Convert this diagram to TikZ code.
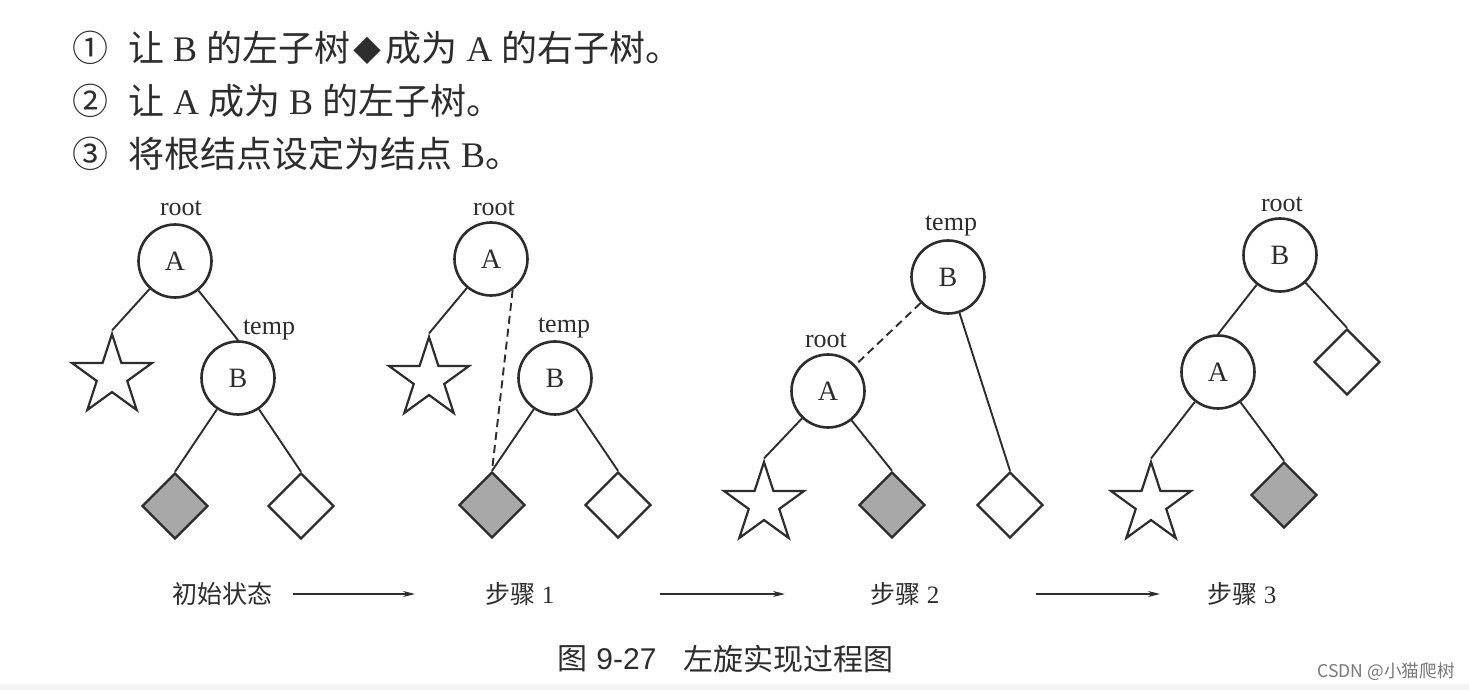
\documentclass[tikz,border=0pt]{standalone}
\usepackage{fontspec}
\setmainfont{Liberation Serif}
\newfontfamily\cjk{Noto Sans CJK SC}
\usetikzlibrary{shapes.geometric,arrows.meta}
\definecolor{ink}{RGB}{45,45,45}
\definecolor{shade}{RGB}{168,168,168}
\definecolor{wm}{RGB}{120,120,120}
\tikzset{
  vert/.style={circle,draw=ink,line width=1.3pt,minimum size=36.5pt,inner sep=0pt,text=ink,font=\fontsize{14}{16}\selectfont},
  leafstar/.style={star,star points=5,star point ratio=2.618,draw=ink,line width=1.1pt,minimum size=42pt,inner sep=0pt},
  leafgray/.style={diamond,draw=ink,fill=shade,line width=1.2pt,minimum size=33pt,inner sep=0pt},
  leafwhite/.style={diamond,draw=ink,fill=white,line width=1.2pt,minimum size=33pt,inner sep=0pt},
  edge/.style={draw=ink,line width=0.95pt},
  dashedge/.style={draw=ink,line width=0.95pt,dash pattern=on 4pt off 2.5pt},
  tag/.style={anchor=base,inner sep=0pt,text=ink,font=\fontsize{13}{15}\selectfont},
  steplabel/.style={inner sep=0pt,text=ink,font=\fontsize{12.5}{14}\selectfont},
  flow/.style={draw=ink,line width=0.8pt,-{Stealth[length=6pt,width=3pt]}},
  head/.style={anchor=west,inner sep=0pt,text=ink,font=\fontsize{18}{20}\selectfont},
}
\begin{document}
\begin{tikzpicture}[x=0.5pt,y=-0.5pt]
\useasboundingbox (0,0) rectangle (1469,690);
\fill[white] (0,0) rectangle (1469,690);
\fill[gray!9] (0,684) rectangle (1469,690);

% header
\node[head] (h1) at (72,48) {{\cjk ①}\hspace{0.55em}{\cjk 让} B {\cjk 的左子树}\hspace{0.1em}{\cjk\fontsize{14}{14}\selectfont ◆}\hspace{0.1em}{\cjk 成为} A {\cjk 的右子树。}};
\node[head] (h2) at (72,101) {{\cjk ②}\hspace{0.55em}{\cjk 让} A {\cjk 成为} B {\cjk 的左子树。}};
\node[head] (h3) at (72,154) {{\cjk ③}\hspace{0.55em}{\cjk 将根结点设定为结点} B{\cjk 。}};

% tree 1: initial
\node[vert] (A1) at (175,261) {A};
\node[vert] (B1) at (238,378) {B};
\node[leafstar] (S1) at (112,376) {};
\node[leafgray] (G1) at (175,506) {};
\node[leafwhite] (W1) at (301,506) {};
\node[tag] (r1) at (181,215) {root};
\node[tag] (t1) at (269,335) {temp};
\draw[edge] (A1) -- (S1.north);
\draw[edge] (A1) -- (B1.north);
\draw[edge] (B1) -- (G1.north);
\draw[edge] (B1) -- (W1.north);

% tree 2: step 1
\node[vert] (A2) at (491,259) {A};
\node[vert] (B2) at (555,378) {B};
\node[leafstar] (S2) at (429,379) {};
\node[leafgray] (G2) at (492,505) {};
\node[leafwhite] (W2) at (618,505) {};
\node[tag] (r2) at (494,215) {root};
\node[tag] (t2) at (564,332) {temp};
\draw[edge] (A2) -- (S2.north);
\draw[dashedge] (A2.-55) -- (G2.north);
\draw[edge] (B2) -- (G2.north);
\draw[edge] (B2) -- (W2.north);

% tree 3: step 2
\node[vert] (B3) at (948,277) {B};
\node[vert] (A3) at (828,391) {A};
\node[leafstar] (S3) at (764,504) {};
\node[leafgray] (G3) at (892,505) {};
\node[leafwhite] (W3) at (1010,505) {};
\node[tag] (t3) at (951,231) {temp};
\node[tag] (r3) at (826,347) {root};
\draw[dashedge] (B3) -- (A3);
\draw[edge] (B3) -- (W3.north);
\draw[edge] (A3) -- (S3.north);
\draw[edge] (A3) -- (G3.north);

% tree 4: step 3
\node[vert] (B4) at (1280,255) {B};
\node[vert] (A4) at (1218,372) {A};
\node[leafwhite] (W4) at (1347,362) {};
\node[leafgray] (G4) at (1284,495) {};
\node[leafstar] (S4) at (1151,504) {};
\node[tag] (r4) at (1282,212) {root};
\draw[edge] (B4) -- (A4.north);
\draw[edge] (B4) -- (W4.north);
\draw[edge] (A4) -- (S4.north);
\draw[edge] (A4) -- (G4.north);

% step labels and arrows
\node[steplabel] (L0) at (222,594) {\cjk 初始状态};
\node[steplabel] (L1) at (520,594) {{\cjk 步骤} 1};
\node[steplabel] (L2) at (905,594) {{\cjk 步骤} 2};
\node[steplabel] (L3) at (1242,594) {{\cjk 步骤} 3};
\coordinate (a0s) at (293,594); \coordinate (a0e) at (415,594);
\coordinate (a1s) at (660,594); \coordinate (a1e) at (785,594);
\coordinate (a2s) at (1036,594); \coordinate (a2e) at (1160,594);
\draw[flow] (a0s) -- (a0e);
\draw[flow] (a1s) -- (a1e);
\draw[flow] (a2s) -- (a2e);

% caption
\node[anchor=west,inner sep=0pt,text=ink,font=\fontsize{15}{17}\selectfont] (c1) at (557,659) {\cjk 图};
\node[anchor=west,inner sep=0pt,text=ink,font=\fontsize{15}{17}\selectfont\fontspec{Liberation Sans}] (c2) at (596,659) {9-27};
\node[anchor=west,inner sep=0pt,text=ink,font=\fontsize{15}{17}\selectfont] (c3) at (683,659) {\cjk 左旋实现过程图};

% watermark
\node[anchor=east,inner sep=0pt,text=wm,font=\fontsize{8.8}{10}\selectfont\cjk] (wmk) at (1455,672) {CSDN @小猫爬树};
\end{tikzpicture}
\end{document}
